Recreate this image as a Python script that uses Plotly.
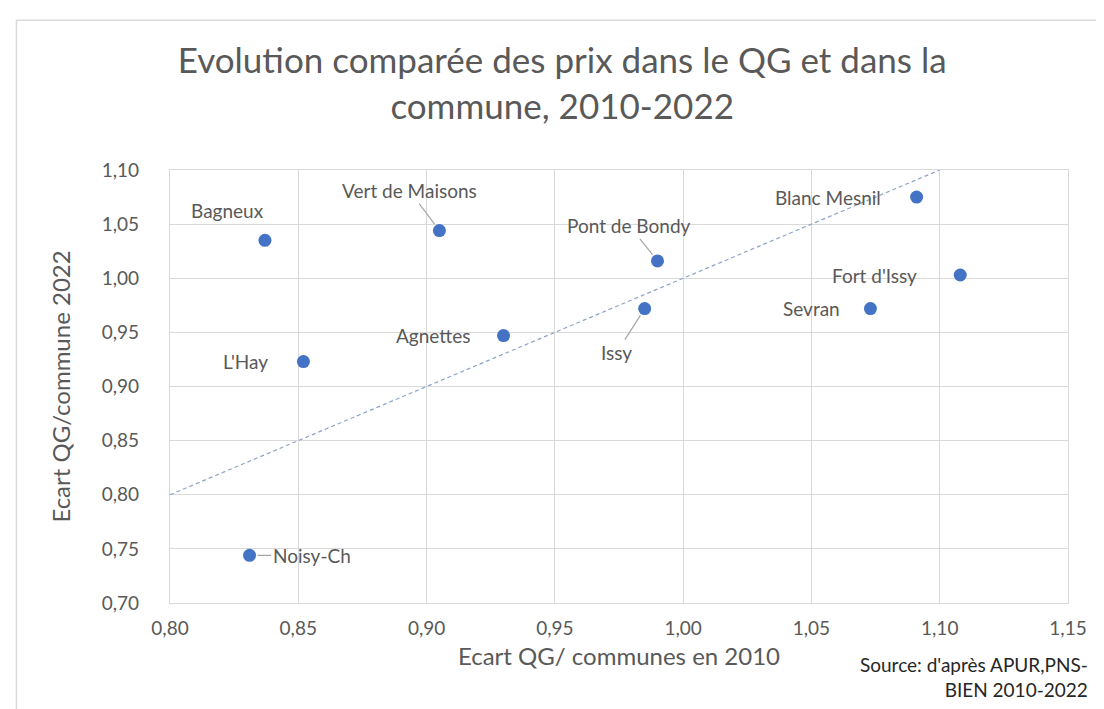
import plotly.graph_objects as go

# values
communes = ["Bagneux", "Vert de Maisons", "Agnettes", "L'Hay", "Noisy-Ch",
            "Pont de Bondy", "Issy", "Blanc Mesnil", "Fort d'Issy", "Sevran"]
ecart_2010 = [0.837, 0.905, 0.930, 0.852, 0.831, 0.990, 0.985, 1.091, 1.108, 1.073]
ecart_2022 = [1.035, 1.044, 0.947, 0.923, 0.744, 1.016, 0.972, 1.075, 1.003, 0.972]
diag_x = [0.80, 1.10]
diag_y = [0.80, 1.10]
x_ticks = [0.80, 0.85, 0.90, 0.95, 1.00, 1.05, 1.10, 1.15]
y_ticks = [0.70, 0.75, 0.80, 0.85, 0.90, 0.95, 1.00, 1.05, 1.10]

# label placement (pixel offsets from the marker), leader line or not
label_pos = {
    "Bagneux": (-37, -30, False),
    "Vert de Maisons": (-30, -40, True),
    "Agnettes": (-70, 0, False),
    "L'Hay": (-58, 0, False),
    "Noisy-Ch": (62, 0, True),
    "Pont de Bondy": (-28, -35, True),
    "Issy": (-28, 44, True),
    "Blanc Mesnil": (-89, 0, False),
    "Fort d'Issy": (-86, 0, False),
    "Sevran": (-59, 0, False),
}

FONT = "Lato"
GREY = "#595959"
BLUE = "#4472C4"

fig = go.Figure()
fig.add_trace(go.Scatter(
    x=diag_x, y=diag_y, mode="lines",
    line=dict(color="#8EA2C8", width=1.2, dash="4px,3px"),
    hoverinfo="skip", showlegend=False,
))
fig.add_trace(go.Scatter(
    x=ecart_2010, y=ecart_2022, mode="markers",
    marker=dict(color=BLUE, size=13),
    text=communes, showlegend=False,
))

for name, x, y in zip(communes, ecart_2010, ecart_2022):
    dx, dy, leader = label_pos[name]
    if leader:
        fig.add_annotation(
            x=x, y=y, text=name, showarrow=True, arrowhead=0,
            arrowcolor="#A6A6A6", arrowwidth=1.2, ax=dx, ay=dy, standoff=8,
            font=dict(family=FONT, size=19, color=GREY),
        )
    else:
        fig.add_annotation(
            x=x, y=y, text=name, showarrow=False, xshift=dx, yshift=-dy,
            font=dict(family=FONT, size=19, color=GREY),
        )

fig.add_annotation(
    xref="paper", yref="paper", x=1.025, y=-0.172, xanchor="right", yanchor="middle",
    text="Source: d'après APUR,PNS-<br>BIEN 2010-2022", align="right", showarrow=False,
    font=dict(family=FONT, size=19, color="#262626"),
)

# outer chart frame
fig.add_shape(type="rect", xref="paper", yref="paper",
              x0=-0.171, x1=1.04, y0=-0.30, y1=1.346,
              line=dict(color="#D9D9D9", width=1.5))

axis_common = dict(
    showgrid=True, gridcolor="#D9D9D9", gridwidth=1.2,
    showline=True, linecolor="#D9D9D9", linewidth=1.2, mirror=True,
    zeroline=False, tickformat=".2f", ticks="",
    tickfont=dict(family=FONT, size=19, color=GREY),
)
fig.update_xaxes(
    range=[0.80, 1.15], tickvals=x_ticks, ticklabelstandoff=8,
    title=dict(text="Ecart QG/ communes en 2010", standoff=10,
               font=dict(family=FONT, size=24, color=GREY)),
    **axis_common,
)
fig.update_yaxes(
    range=[0.70, 1.10], tickvals=y_ticks, ticklabelstandoff=26,
    title=dict(text="Ecart QG/commune 2022", standoff=24,
               font=dict(family=FONT, size=24, color=GREY)),
    **axis_common,
)

fig.update_layout(
    width=1104, height=709,
    separators=", ",
    title=dict(
        text="Evolution comparée des prix dans le QG et dans la<br>commune, 2010-2022",
        x=0.502, xanchor="center", y=0.908, yanchor="middle",
        font=dict(family=FONT, size=35, color=GREY),
    ),
    margin=dict(l=162, r=44, t=162, b=114),
    plot_bgcolor="white", paper_bgcolor="white",
)

fig.write_html("out.html")
